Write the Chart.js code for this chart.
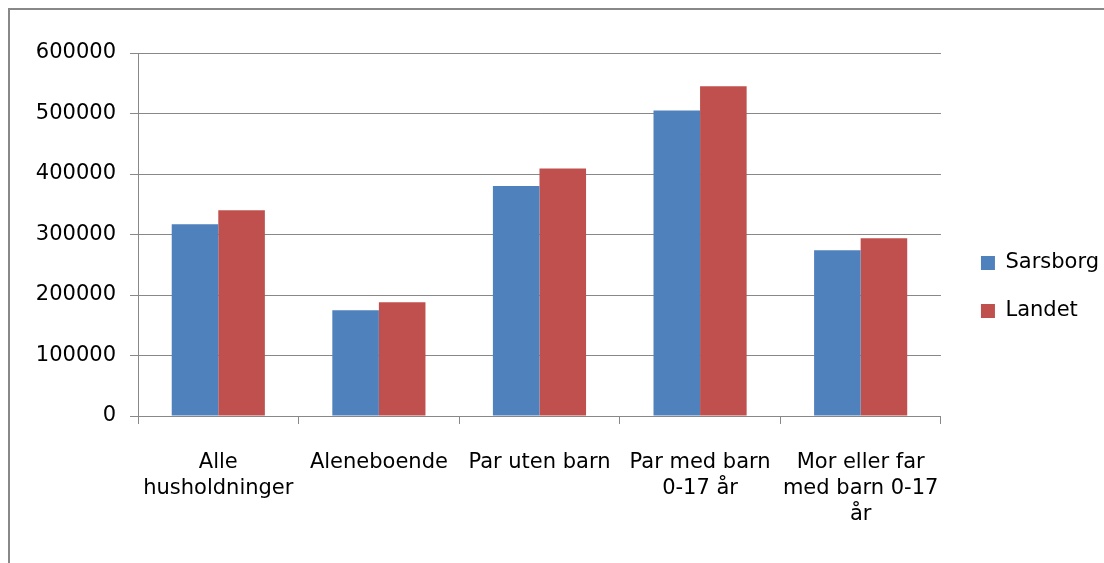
<!DOCTYPE html>
<html>
<head>
<meta charset="utf-8">
<script src="https://cdn.jsdelivr.net/npm/chart.js@4.4.0/dist/chart.umd.min.js"></script>
<style>
    body { margin: 0; background: #fff; overflow: hidden; }
    .frame {
        position: absolute; left: 8px; top: 8px;
        width: 1100px; height: 560px;
        border-left: 2px solid #888; border-top: 2px solid #888;
    }
    .chart-container { position: absolute; left: 0; top: 0; width: 1094px; height: 553px; }
</style>
</head>
<body>
<div class="frame">
    <div class="chart-container"><canvas id="incomeChart"></canvas></div>
</div>
<script>
const categories = [
    ['Alle', 'husholdninger'],
    ['Aleneboende'],
    ['Par uten barn'],
    ['Par med barn', '0-17 år'],
    ['Mor eller far', 'med barn 0-17', 'år']
];
const sarsborgValues = [317000, 175000, 380000, 505000, 274000];
const landetValues = [340000, 188000, 409000, 545000, 294000];
const yTicks = [0, 100000, 200000, 300000, 400000, 500000, 600000];

const gridColor = '#888888';
const font = { family: 'DejaVu Sans', size: 21, lineHeight: 1.25 };

Chart.defaults.font = font;
Chart.defaults.color = '#000';

// nudge the legend a bit to the right, like the original
const legendShift = {
    id: 'legendShift',
    afterLayout(chart) {
        chart.legend.left += 13;
        chart.legend.right += 13;
    }
};

const ctx = document.getElementById('incomeChart').getContext('2d');
const chart = new Chart(ctx, {
    type: 'bar',
    data: {
        labels: categories,
        datasets: [{
            label: 'Sarsborg',
            data: sarsborgValues,
            backgroundColor: '#4F81BD'
        }, {
            label: 'Landet',
            data: landetValues,
            backgroundColor: '#C0504D'
        }]
    },
    options: {
        responsive: true,
        maintainAspectRatio: false,
        animation: false,
        datasets: { bar: { barPercentage: 1, categoryPercentage: 0.58 } },
        layout: { padding: { top: 43, right: 8, left: 0, bottom: 42 } },
        scales: {
            x: {
                grid: { offset: true, drawOnChartArea: false, color: gridColor, tickLength: 8 },
                border: { color: gridColor, width: 1 },
                ticks: { padding: 25, maxRotation: 0, autoSkip: false, font: font },
                afterFit: scale => { scale.height = 105; }
            },
            y: {
                min: 0,
                max: 600000,
                afterBuildTicks: scale => { scale.ticks = yTicks.map(v => ({ value: v })); },
                grid: { color: gridColor, tickLength: 8 },
                border: { color: gridColor, width: 1 },
                ticks: { padding: 14, font: font, callback: v => String(v) },
                afterFit: scale => { scale.width = 128; }
            }
        },
        plugins: {
            legend: {
                position: 'right',
                labels: { boxWidth: 14, boxHeight: 14, padding: 27, font: font }
            },
            tooltip: { enabled: false }
        }
    },
    plugins: [legendShift]
});
</script>
</body>
</html>
